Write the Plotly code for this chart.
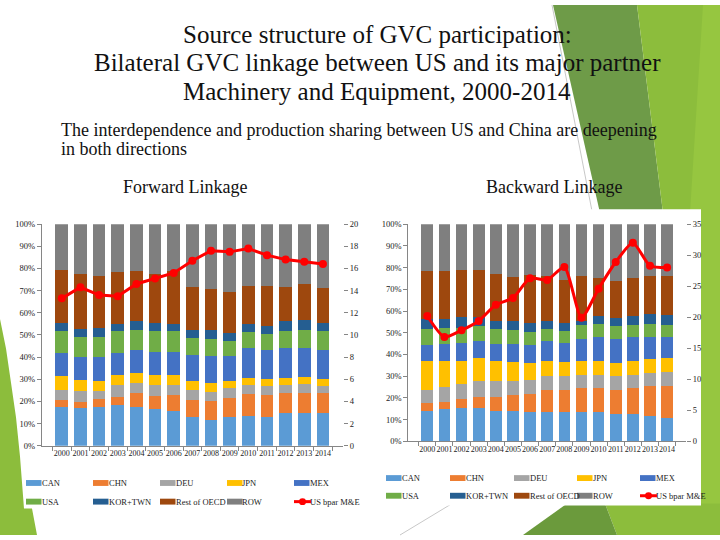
import plotly.graph_objects as go

W, H = 720, 540

years = [str(y) for y in range(2000, 2015)]
series_names = ["CAN", "CHN", "DEU", "JPN", "MEX", "USA", "KOR+TWN", "Rest of OECD", "ROW"]
series_colors = ["#5b9bd5", "#ed7d31", "#a5a5a5", "#ffc000", "#4472c4",
                 "#70ad47", "#255e91", "#9e480e", "#7f7f7f"]
line_name = "US bpar M&E"
line_color = "#ff0000"

# Forward linkage shares (%)
fwd_can = [17.6, 16.8, 17.3, 18.5, 17.3, 16.5, 15.8, 12.9, 11.4, 12.9, 13.3, 12.9, 14.6, 14.6, 14.6]
fwd_chn = [2.9, 3.0, 3.7, 3.5, 6.3, 5.8, 6.9, 7.6, 8.8, 8.8, 9.9, 9.8, 9.2, 9.2, 9.2]
fwd_deu = [4.6, 4.9, 3.8, 5.2, 4.6, 5.0, 4.6, 4.5, 4.2, 4.4, 4.3, 4.2, 3.5, 4.1, 3.1]
fwd_jpn = [6.2, 5.0, 4.4, 4.9, 4.7, 4.8, 4.8, 4.1, 4.0, 3.3, 3.1, 3.1, 3.3, 3.1, 3.1]
fwd_mex = [10.4, 10.2, 10.7, 9.6, 10.1, 10.0, 10.3, 11.7, 11.9, 10.9, 13.3, 13.0, 13.7, 13.3, 13.4]
fwd_usa = [9.9, 9.3, 9.3, 9.9, 9.0, 9.5, 9.2, 7.9, 7.7, 6.8, 7.2, 7.5, 7.5, 8.0, 8.4]
fwd_kor = [3.8, 3.5, 4.0, 3.2, 4.3, 3.8, 3.2, 3.7, 4.0, 3.7, 3.7, 3.6, 4.5, 4.4, 3.6]
fwd_oecd = [23.9, 24.8, 23.2, 23.8, 22.7, 22.1, 24.1, 19.2, 18.9, 18.5, 17.4, 18.1, 15.5, 16.1, 15.8]
fwd_row = [20.7, 22.5, 23.6, 21.4, 21.0, 22.5, 21.1, 28.4, 29.1, 30.7, 27.8, 27.8, 28.2, 27.2, 28.8]
fwd_line = [13.3, 14.3, 13.6, 13.5, 14.6, 15.1, 15.6, 16.7, 17.6, 17.5, 17.8, 17.2, 16.8, 16.6, 16.4]

# Backward linkage shares (%)
bwd_can = [14.0, 14.8, 15.1, 15.1, 14.0, 14.0, 13.7, 13.7, 13.3, 13.3, 13.3, 12.5, 12.5, 11.5, 10.6]
bwd_chn = [3.5, 3.5, 4.5, 5.4, 6.5, 7.1, 8.3, 9.7, 10.5, 11.3, 11.3, 11.3, 12.1, 13.8, 15.0]
bwd_deu = [6.0, 6.6, 6.8, 7.1, 7.1, 6.5, 6.4, 6.5, 6.1, 5.7, 5.7, 6.1, 5.7, 6.1, 6.2]
bwd_jpn = [13.6, 12.2, 10.7, 10.6, 9.5, 9.1, 7.6, 7.2, 6.8, 6.8, 6.8, 6.3, 6.8, 6.5, 6.4]
bwd_mex = [7.1, 7.8, 8.3, 8.1, 7.8, 8.2, 8.5, 8.9, 8.7, 10.1, 10.9, 11.0, 10.9, 10.1, 9.8]
bwd_usa = [7.5, 7.3, 6.8, 6.9, 6.8, 6.4, 5.7, 5.7, 5.4, 6.3, 5.8, 5.7, 5.5, 6.0, 5.5]
bwd_kor = [4.6, 4.1, 5.1, 4.1, 3.7, 4.1, 4.2, 3.7, 3.6, 1.9, 4.0, 3.8, 4.3, 4.5, 4.6]
bwd_oecd = [22.1, 22.1, 21.6, 21.6, 21.5, 20.2, 22.2, 20.5, 19.7, 20.5, 17.3, 17.2, 17.3, 17.4, 17.8]
bwd_row = [21.6, 21.6, 21.1, 21.1, 23.1, 24.4, 23.4, 24.1, 25.9, 24.1, 24.9, 26.1, 24.9, 24.1, 24.1]
bwd_line = [20.2, 16.8, 17.9, 19.4, 22.0, 23.1, 26.3, 26.0, 28.1, 19.9, 24.6, 28.9, 32.0, 28.3, 28.0]

fwd_series = [fwd_can, fwd_chn, fwd_deu, fwd_jpn, fwd_mex, fwd_usa, fwd_kor, fwd_oecd, fwd_row]
bwd_series = [bwd_can, bwd_chn, bwd_deu, bwd_jpn, bwd_mex, bwd_usa, bwd_kor, bwd_oecd, bwd_row]

SERIF = "Liberation Serif"


def px(x):
    return x / W


def py(y):
    return 1 - y / H


fig = go.Figure()

for i, (name, col) in enumerate(zip(series_names, series_colors)):
    fig.add_trace(go.Bar(x=years, y=fwd_series[i], name=name, marker_color=col,
                         marker_line_width=0, xaxis="x", yaxis="y"))
fig.add_trace(go.Scatter(x=years, y=fwd_line, name=line_name, mode="lines+markers",
                         line=dict(color=line_color, width=3),
                         marker=dict(color=line_color, size=8),
                         xaxis="x", yaxis="y2"))

for i, (name, col) in enumerate(zip(series_names, series_colors)):
    fig.add_trace(go.Bar(x=years, y=bwd_series[i], name=name, marker_color=col,
                         marker_line_width=0, xaxis="x2", yaxis="y3"))
fig.add_trace(go.Scatter(x=years, y=bwd_line, name=line_name, mode="lines+markers",
                         line=dict(color=line_color, width=3, shape="spline", smoothing=0.6),
                         marker=dict(color=line_color, size=8),
                         xaxis="x2", yaxis="y4"))

tickfont = dict(family=SERIF, size=8.5, color="#222222")
xtickfont = dict(family=SERIF, size=8, color="#222222")
axcol = "#868686"

xcommon = dict(type="category", showgrid=False, showline=True, linecolor=axcol,
               ticks="outside", tickson="boundaries", ticklen=4, tickcolor=axcol,
               tickfont=xtickfont, tickangle=0, fixedrange=True)
ycommon_left = dict(range=[0, 100], dtick=10, ticksuffix="%", showgrid=False,
                    showline=True, linecolor=axcol, ticks="outside", ticklen=4,
                    tickcolor=axcol, tickfont=tickfont, zeroline=False)
ycommon_right = dict(showgrid=False, showline=False, ticks="outside", ticklen=4,
                     tickcolor=axcol, tickfont=tickfont, zeroline=False, side="right")

fig.update_layout(
    xaxis=dict(domain=[px(41.7), px(343)], anchor="y", **xcommon),
    yaxis=dict(domain=[py(449), py(223.3)], anchor="x", **ycommon_left),
    yaxis2=dict(overlaying="y", anchor="x", range=[0, 20], dtick=2, **ycommon_right),
    xaxis2=dict(domain=[px(408.4), px(686)], anchor="y3", **xcommon),
    yaxis3=dict(domain=[py(444.5), py(223.3)], anchor="x2", **ycommon_left),
    yaxis4=dict(overlaying="y3", anchor="x2", range=[0, 35], dtick=5, **ycommon_right),
)


def path(points):
    return "M " + " L ".join(f"{px(x):.5f},{py(y):.5f}" for x, y in points) + " Z"


shapes = []
# left green decoration
shapes.append(dict(type="path", xref="paper", yref="paper", layer="below",
                   path=path([(0, 320), (6, 350), (11, 385), (16, 420), (20, 460),
                              (24, 513), (32, 513), (37, 540), (0, 540)]),
                   fillcolor="#8cbd3c", line_width=0))
# right top decorations
shapes.append(dict(type="path", xref="paper", yref="paper", layer="below",
                   path=path([(553, 0), (637, 0), (663, 212), (600, 212)]),
                   fillcolor="#6e9b48", line_width=0))
shapes.append(dict(type="path", xref="paper", yref="paper", layer="below",
                   path=path([(637, 0), (720, 0), (720, 212), (663, 212)]),
                   fillcolor="#8cbd3c", line_width=0))
shapes.append(dict(type="path", xref="paper", yref="paper", layer="below",
                   path=path([(703, 0), (720, 0), (720, 540), (690, 540), (690, 212)]),
                   fillcolor="#96c640", line_width=0))
# right bottom decorations
shapes.append(dict(type="path", xref="paper", yref="paper", layer="below",
                   path=path([(605, 508), (720, 508), (720, 540), (617, 540)]),
                   fillcolor="#8cbd3c", line_width=0))
shapes.append(dict(type="path", xref="paper", yref="paper", layer="below",
                   path=path([(523, 540), (567, 508), (605, 508), (617, 540)]),
                   fillcolor="#6b9a3c", line_width=0))
# thin decorative lines
shapes.append(dict(type="line", xref="paper", yref="paper", layer="below",
                   x0=px(552), y0=py(0), x1=px(592), y1=py(210),
                   line=dict(color="#c8c8c8", width=1)))
shapes.append(dict(type="line", xref="paper", yref="paper", layer="below",
                   x0=px(400), y0=py(540), x1=px(452), y1=py(508),
                   line=dict(color="#c8c8c8", width=1)))
# backward chart white box
shapes.append(dict(type="rect", xref="paper", yref="paper", layer="below",
                   x0=px(378), y0=py(510), x1=px(701), y1=py(208),
                   fillcolor="#ffffff", line_width=0))

annotations = []
legfont = dict(family=SERIF, size=8.5, color="#222222")

# legend keys (two rows of five under each chart)
legend_names = series_names + [line_name]
legend_colors = series_colors + [line_color]
legend_layouts = [
    dict(cols=[26, 93, 160, 227, 294], rows=[487, 506]),   # forward
    dict(cols=[386, 450, 514, 577, 640], rows=[482, 500]),  # backward
]
for lay in legend_layouts:
    for k, (name, col) in enumerate(zip(legend_names, legend_colors)):
        cx = lay["cols"][k % 5]
        cy = lay["rows"][k // 5]
        if name == line_name:
            shapes.append(dict(type="line", xref="paper", yref="paper",
                               x0=px(cx), x1=px(cx + 17), y0=py(cy), y1=py(cy),
                               line=dict(color=col, width=3)))
            shapes.append(dict(type="circle", xref="paper", yref="paper",
                               x0=px(cx + 5), x1=px(cx + 12), y0=py(cy + 3.5), y1=py(cy - 3.5),
                               fillcolor=col, line_width=0))
        else:
            shapes.append(dict(type="rect", xref="paper", yref="paper",
                               x0=px(cx), x1=px(cx + 15.5), y0=py(cy + 3), y1=py(cy - 3),
                               fillcolor=col, line_width=0))
        annotations.append(dict(text=name, x=px(cx + 13.5), y=py(cy), xref="paper",
                                yref="paper", xanchor="left", yanchor="middle",
                                showarrow=False, font=legfont))

title_lines = [("Source structure of GVC participation:", 30),
               ("Bilateral GVC linkage between US and its major partner", 59),
               ("Machinery and Equipment, 2000-2014", 88)]
for txt, yy in title_lines:
    annotations.append(dict(text=txt, x=px(377), y=py(yy), xref="paper", yref="paper",
                            xanchor="center", yanchor="middle", showarrow=False,
                            font=dict(family=SERIF, size=25, color="#111111")))
annotations.append(dict(text="The interdependence and production sharing between US and China are deepening",
                        x=px(59), y=py(127), xref="paper", yref="paper", xanchor="left",
                        yanchor="middle", showarrow=False,
                        font=dict(family=SERIF, size=18, color="#111111")))
annotations.append(dict(text="in both directions", x=px(59), y=py(147), xref="paper",
                        yref="paper", xanchor="left", yanchor="middle", showarrow=False,
                        font=dict(family=SERIF, size=18, color="#111111")))
annotations.append(dict(text="Forward Linkage", x=px(185), y=py(185), xref="paper",
                        yref="paper", xanchor="center", yanchor="middle", showarrow=False,
                        font=dict(family=SERIF, size=18, color="#111111")))
annotations.append(dict(text="Backward Linkage", x=px(554), y=py(185), xref="paper",
                        yref="paper", xanchor="center", yanchor="middle", showarrow=False,
                        font=dict(family=SERIF, size=18, color="#111111")))

fig.update_layout(
    width=W, height=H, margin=dict(l=0, r=0, t=0, b=0),
    paper_bgcolor="#ffffff", plot_bgcolor="rgba(0,0,0,0)",
    barmode="stack", bargap=0.32,
    shapes=shapes, annotations=annotations,
    showlegend=False,
)

fig.write_html("out.html", config={"displayModeBar": False},
               post_script="document.body.style.margin='0';document.body.style.overflow='hidden';")
